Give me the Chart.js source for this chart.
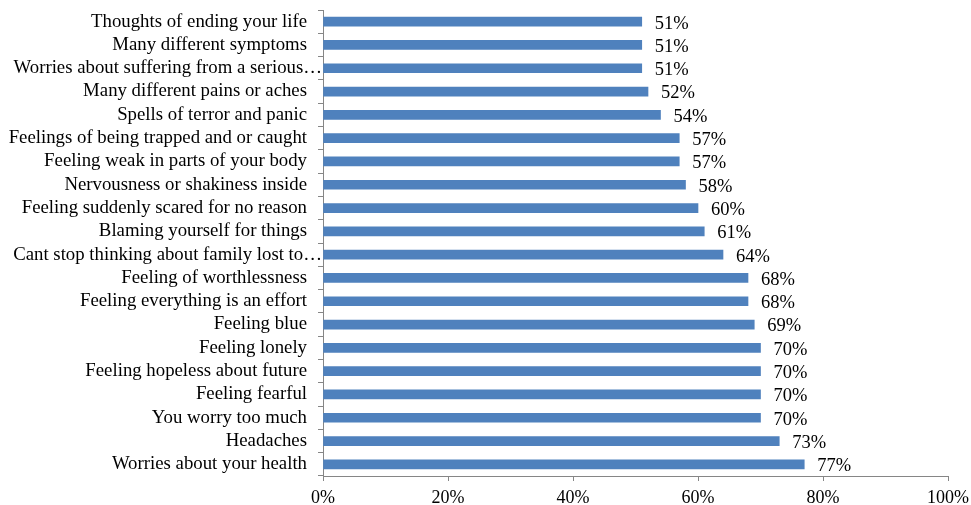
<!DOCTYPE html>
<html>
<head>
<meta charset="utf-8">
<script src="https://cdn.jsdelivr.net/npm/chart.js@4.4.1/dist/chart.umd.min.js"></script>
<style>
  html, body { margin: 0; padding: 0; background: #ffffff; }
  #wrap { width: 971px; height: 505px; }
</style>
</head>
<body>
<div id="wrap"><canvas id="chart"></canvas></div>
<script>
// categorias (de cima para baixo)
const symptoms = [
  'Thoughts of ending your life',
  'Many different symptoms',
  'Worries about suffering from a serious\u2026',
  'Many different pains or aches',
  'Spells of terror and panic',
  'Feelings of being trapped and or caught',
  'Feeling weak in parts of your body',
  'Nervousness or shakiness inside',
  'Feeling suddenly scared for no reason',
  'Blaming yourself for things',
  'Cant stop thinking about family lost to\u2026',
  'Feeling of worthlessness',
  'Feeling everything is an effort',
  'Feeling blue',
  'Feeling lonely',
  'Feeling hopeless about future',
  'Feeling fearful',
  'You worry too much',
  'Headaches',
  'Worries about your health'
];

// percentuais
const percentValues = [51, 51, 51, 52, 54, 57, 57, 58, 60, 61, 64, 68, 68, 69, 70, 70, 70, 70, 73, 77];

// marcas do eixo X
const xTicks = [0, 20, 40, 60, 80, 100];

const serif = "'Liberation Serif', 'Times New Roman', serif";
const axisGray = '#868686';

// rótulos de valor ao lado de cada barra + rótulos do eixo Y
const customLabels = {
  id: 'customLabels',
  afterDatasetsDraw(chart) {
    const ctx = chart.ctx;
    const meta = chart.getDatasetMeta(0);
    const yScale = chart.scales.y;
    ctx.save();
    ctx.fillStyle = '#000000';
    ctx.textBaseline = 'middle';

    ctx.font = '18.5px ' + serif;
    ctx.textAlign = 'left';
    meta.data.forEach((bar, i) => {
      ctx.fillText(percentValues[i] + '%', bar.x + 13, bar.y + 2);
    });

    // rótulos truncados passam um pouco da marca, como no original
    ctx.font = '18.8px ' + serif;
    ctx.textAlign = 'right';
    symptoms.forEach((label, i) => {
      const y = yScale.getPixelForTick(i);
      const x = yScale.right - 16 + (label.endsWith('\u2026') ? 15 : 0);
      ctx.fillText(label, x, y);
    });
    ctx.restore();
  }
};

new Chart(document.getElementById('chart').getContext('2d'), {
  type: 'bar',
  data: {
    labels: symptoms,
    datasets: [{
      data: percentValues,
      backgroundColor: '#4F81BD',
      borderWidth: 0,
      barThickness: 9
    }]
  },
  options: {
    indexAxis: 'y',
    responsive: true,
    maintainAspectRatio: false,
    animation: false,
    devicePixelRatio: 1,
    layout: { padding: { top: 10, right: 23, left: 0, bottom: 0 } },
    plugins: {
      legend: { display: false },
      tooltip: { enabled: false }
    },
    scales: {
      x: {
        min: 0,
        max: 100,
        afterFit: (scale) => {
          scale.height = 29;
          scale.paddingLeft = 0;
          scale.paddingRight = 0;
        },
        afterBuildTicks: (scale) => { scale.ticks = xTicks.map(v => ({ value: v })); },
        border: { color: axisGray, width: 1 },
        grid: { drawOnChartArea: false, drawTicks: true, tickLength: 5, color: axisGray },
        ticks: {
          callback: (v) => v + '%',
          color: '#000000',
          padding: 6,
          maxRotation: 0,
          font: { size: 18, family: serif }
        }
      },
      y: {
        afterFit: (scale) => {
          scale.width = 323;
          scale.paddingTop = 0;
          scale.paddingBottom = 0;
        },
        border: { color: axisGray, width: 1 },
        grid: { drawOnChartArea: false, drawTicks: true, tickLength: 5, color: axisGray, offset: true },
        ticks: {
          display: false,
          autoSkip: false
        }
      }
    }
  },
  plugins: [customLabels]
});
</script>
</body>
</html>
